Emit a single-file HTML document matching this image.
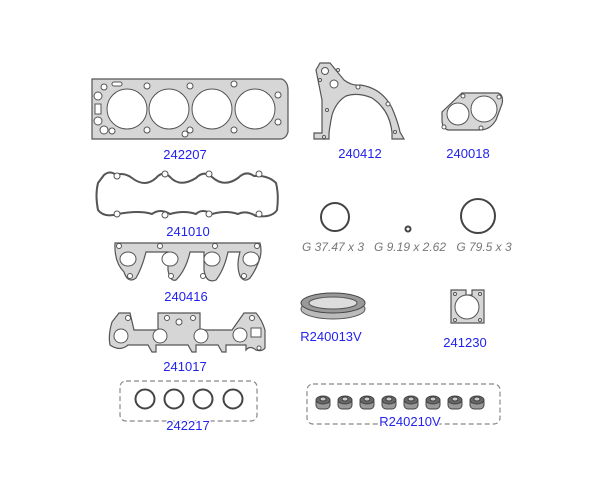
<!DOCTYPE html>
<html><head><style>
html,body{margin:0;padding:0;background:#fff;}
svg{display:block;}
.l{font-family:"Liberation Sans",sans-serif;font-size:13px;fill:#2222ee;text-anchor:middle;}
.g{font-family:"Liberation Sans",sans-serif;font-size:12px;fill:#777;font-style:italic;text-anchor:middle;}
.p{fill:#d6d6d6;stroke:#555;stroke-width:1.2;}
.h{fill:#fff;stroke:#555;stroke-width:1;}
.r{fill:none;stroke:#444;stroke-width:2;}
</style></head><body>
<svg width="607" height="498" viewBox="0 0 607 498">
<!-- head gasket -->
<path class="p" d="M92 79 H282 Q288 82 288 90 V132 Q286 139 280 139 H92 Z"/>
<g class="h"><circle cx="127" cy="109" r="20"/><circle cx="169" cy="109" r="20"/><circle cx="212" cy="109" r="20"/><circle cx="255" cy="109" r="20"/>
<circle cx="104" cy="87" r="3"/><circle cx="98" cy="96" r="4"/><circle cx="98" cy="121" r="4"/><circle cx="104" cy="130" r="4"/><circle cx="112" cy="131" r="3"/>
<circle cx="147" cy="86" r="3"/><circle cx="147" cy="130" r="3"/><circle cx="190" cy="86" r="3"/><circle cx="190" cy="130" r="3"/><circle cx="234" cy="84" r="3"/><circle cx="234" cy="130" r="3"/><circle cx="278" cy="95" r="3"/><circle cx="278" cy="122" r="3"/><circle cx="185" cy="134" r="3"/>
<rect x="95" y="104" width="6" height="10"/><rect x="112" y="82" width="10" height="4" rx="2"/></g>
<text class="l" x="185" y="159">242207</text>
<!-- valve cover -->
<path d="M104 175 Q110 170 116 175 Q124 172 132 178 Q145 188 156 178 Q163 170 170 177 Q180 188 196 178 Q204 170 212 177 Q224 188 238 178 Q246 170 254 176 Q268 175 276 183 Q279 195 277 210 Q272 218 256 216 Q246 210 238 214 Q226 210 212 214 Q202 208 196 214 Q184 210 170 214 Q160 208 152 214 Q140 210 118 214 Q104 218 98 210 Q95 195 98 183 Z" fill="none" stroke="#555" stroke-width="2"/>
<g class="h"><circle cx="117" cy="176" r="3"/><circle cx="165" cy="174" r="3"/><circle cx="209" cy="174" r="3"/><circle cx="259" cy="174" r="3"/><circle cx="117" cy="214" r="3"/><circle cx="165" cy="215" r="3"/><circle cx="209" cy="214" r="3"/><circle cx="259" cy="214" r="3"/></g>
<text class="l" x="188" y="236">241010</text>
<!-- intake -->
<path class="p" d="M115 243 H260 Q262 250 260 258 Q256 270 250 278 Q244 283 240 276 Q236 265 240 252 H228 Q224 270 216 280 Q206 284 204 270 V252 H190 Q186 270 176 280 Q170 282 168 270 V252 H146 Q142 268 136 278 Q128 284 124 272 Q114 262 115 243 Z"/>
<g class="h"><ellipse cx="128" cy="259" rx="8" ry="7"/><ellipse cx="170" cy="259" rx="8" ry="7"/><ellipse cx="212" cy="259" rx="8" ry="7"/><ellipse cx="251" cy="259" rx="8" ry="7"/>
<circle cx="119" cy="246" r="2.5"/><circle cx="160" cy="246" r="2.5"/><circle cx="215" cy="246" r="2.5"/><circle cx="257" cy="246" r="2.5"/><circle cx="130" cy="276" r="2.5"/><circle cx="171" cy="276" r="2.5"/><circle cx="203" cy="276" r="2.5"/><circle cx="244" cy="276" r="2.5"/></g>
<text class="l" x="186" y="301">240416</text>
<!-- exhaust -->
<path class="p" d="M119 313 H130 L134 330 H158 V313 H200 V330 H232 L244 313 H256 Q262 320 265 330 V348 Q262 352 256 350 Q250 345 246 350 V345 H226 V352 H222 L218 345 H196 V352 H192 L188 345 H156 V352 H152 L148 345 H128 Q120 352 110 345 Q108 335 112 322 Z"/>
<g class="h"><circle cx="121" cy="336" r="7"/><circle cx="160" cy="336" r="7"/><circle cx="201" cy="336" r="7"/><circle cx="240" cy="335" r="7"/><rect x="251" y="328" width="10" height="9"/>
<circle cx="128" cy="318" r="2.5"/><circle cx="167" cy="318" r="2.5"/><circle cx="179" cy="322" r="3"/><circle cx="193" cy="318" r="2.5"/><circle cx="252" cy="318" r="2.5"/><circle cx="259" cy="348" r="2"/></g>
<text class="l" x="185" y="371">241017</text>
<!-- rings box -->
<rect x="120" y="381" width="137" height="40" rx="6" fill="none" stroke="#888" stroke-width="1.2" stroke-dasharray="5,3"/>
<g class="r"><circle cx="145" cy="399" r="9.5"/><circle cx="174" cy="399" r="9.5"/><circle cx="203" cy="399" r="9.5"/><circle cx="233" cy="399" r="9.5"/></g>
<text class="l" x="188" y="430" style="stroke:#fff;stroke-width:3;paint-order:stroke">242217</text>
<!-- 240412 -->
<path class="p" d="M320 63 H330 L344 80 Q352 86 360 85 Q382 88 392 108 Q398 122 400 132 L404 139 H392 V133 Q390 110 372 98 Q358 92 346 96 Q336 102 332 115 Q330 125 329 133 V139 H314 V133 H322 Q322 115 322 100 L316 70 Z"/>
<g class="h"><circle cx="325" cy="71" r="3.5"/><circle cx="334" cy="84" r="4"/><circle cx="338" cy="70" r="1.5"/><circle cx="320" cy="80" r="1.5"/><circle cx="358" cy="87" r="2"/><circle cx="388" cy="104" r="2"/><circle cx="327" cy="110" r="1.5"/><circle cx="395" cy="132" r="1.5"/><circle cx="324" cy="137" r="1.5"/></g>
<text class="l" x="360" y="158">240412</text>
<!-- 240018 -->
<path class="p" d="M462 93 H498 Q504 95 502 104 L496 120 Q490 130 480 130 H448 Q442 128 442 120 V112 Z"/>
<g class="h"><circle cx="458" cy="114" r="11"/><circle cx="484" cy="109" r="13"/><circle cx="463" cy="96" r="2"/><circle cx="499" cy="97" r="2"/><circle cx="444" cy="127" r="2"/><circle cx="481" cy="128" r="2"/></g>
<text class="l" x="468" y="158">240018</text>
<!-- o-rings -->
<circle cx="335" cy="217" r="14" fill="none" stroke="#444" stroke-width="2"/>
<circle cx="408" cy="229" r="2.5" fill="none" stroke="#444" stroke-width="2"/>
<circle cx="478" cy="216" r="17" fill="none" stroke="#444" stroke-width="2"/>
<text class="g" x="333" y="251">G 37.47 x 3</text>
<text class="g" x="410" y="251">G 9.19 x 2.62</text>
<text class="g" x="484" y="251">G 79.5 x 3</text>
<!-- seal -->
<ellipse cx="333" cy="309" rx="32" ry="10" fill="#bbb" stroke="#555"/>
<ellipse cx="333" cy="303" rx="32" ry="10" fill="#999" stroke="#444"/>
<ellipse cx="333" cy="303" rx="24" ry="6" fill="#ddd" stroke="#555"/>
<text class="l" x="331" y="341">R240013V</text>
<!-- 241230 -->
<path class="p" d="M451 290 H466 V295 H472 V290 H484 V323 H451 Z"/>
<g class="h"><circle cx="467" cy="307" r="12"/><circle cx="455" cy="294" r="1.5"/><circle cx="480" cy="294" r="1.5"/><circle cx="455" cy="320" r="1.5"/><circle cx="480" cy="320" r="1.5"/></g>
<text class="l" x="465" y="347">241230</text>
<!-- caps box -->
<rect x="307" y="384" width="193" height="40" rx="6" fill="none" stroke="#888" stroke-width="1.2" stroke-dasharray="5,3"/>
<g fill="#999" stroke="#444" stroke-width="1">
<g id="c"><rect x="316" y="398" width="14" height="11" rx="4"/><ellipse cx="323" cy="400" rx="7" ry="4" fill="#666"/><ellipse cx="323" cy="399" rx="3" ry="2" fill="#ccc"/></g>
<use href="#c" x="22"/><use href="#c" x="44"/><use href="#c" x="66"/><use href="#c" x="88"/><use href="#c" x="110"/><use href="#c" x="132"/><use href="#c" x="154"/>
</g>
<text class="l" x="410" y="426" style="stroke:#fff;stroke-width:3;paint-order:stroke">R240210V</text>
</svg>
</body></html>
